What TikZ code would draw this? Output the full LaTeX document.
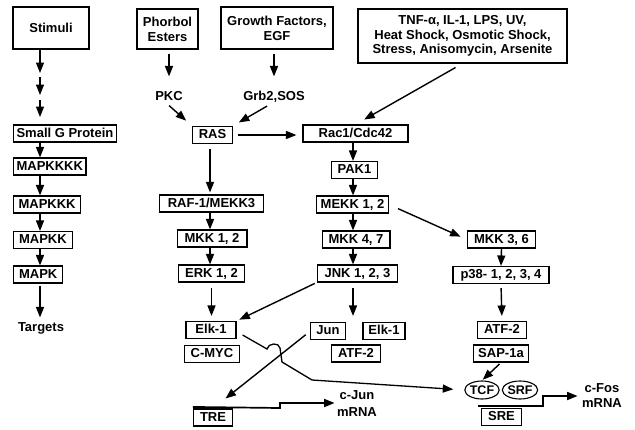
\documentclass[tikz,border=0pt]{standalone}
\usepackage{fontspec}
\setmainfont{Liberation Sans}
\usetikzlibrary{arrows.meta, positioning, shapes.geometric, calc}
\tikzset{
  every picture/.style={line width=1.1pt},
  box/.style={draw, inner xsep=6.5pt, inner ysep=2.5pt, text height=9.5pt, text depth=2.5pt, font=\bfseries\fontsize{13}{15}\selectfont},
  bigbox/.style={draw, align=center, inner sep=2pt, font=\bfseries\fontsize{13}{15}\selectfont},
  txt/.style={inner sep=2pt, text height=9.5pt, text depth=2.5pt, font=\bfseries\fontsize{13}{15}\selectfont},
  mrna/.style={inner sep=2pt, align=center, font=\bfseries\fontsize{13}{15}\selectfont},
  factor/.style={draw, ellipse, inner sep=0pt, minimum height=18pt, text height=8.5pt, text depth=0pt, font=\bfseries\fontsize{12.5}{14}\selectfont},
  arrow/.style={-{Triangle[length=10.5pt,width=8pt]}, line width=1.4pt},
  gene/.style={line width=1.7pt},
}

\begin{document}
\begin{tikzpicture}[x=1pt, y=-1pt]
  \useasboundingbox (0,0) rectangle (635,429);

  % generic cascade
  \coordinate (colL) at (40,0);
  \node[bigbox, minimum width=76pt, minimum height=42pt] (stim) at (51,28) {Stimuli};
  \coordinate (s2) at (40,73);
  \coordinate (s3) at (40,77);
  \coordinate (s4) at (40,95);
  \coordinate (s5) at (40,100);
  \coordinate (s6) at (40,117);
  \node[box, inner xsep=3pt, anchor=west] (smallg) at (13,133.5) {Small G Protein};
  \node[box, inner xsep=3pt, anchor=west] (mk4) at (13,166.5) {MAPKKKK};
  \node[box, inner xsep=5pt, anchor=west] (mk3) at (13,204.5) {MAPKKK};
  \node[box, inner xsep=5.5pt, anchor=west] (mk2) at (13,240) {MAPKK};
  \node[box, inner xsep=5.5pt, anchor=west] (mk1) at (13,274.5) {MAPK};
  \node[txt] (targets) at (41,328) {Targets};
  \draw[arrow] (stim.south -| colL) -- (s2);
  \draw[arrow] (s3) -- (s4);
  \draw[arrow] (s5) -- (s6);
  \draw[arrow] (smallg.south -| colL) -- (mk4.north -| colL);
  \draw[arrow] (mk4.south -| colL) -- (mk3.north -| colL);
  \draw[arrow] (mk3.south -| colL) -- (mk2.north -| colL);
  \draw[arrow] (mk2.south -| colL) -- (mk1.north -| colL);
  \draw[arrow, shorten <=2pt, shorten >=2pt] (mk1.south -| colL) -- (targets.north -| colL);

  % upstream stimuli
  \node[bigbox, minimum width=61pt, minimum height=40pt] (phorbol) at (167.5,29) {Phorbol\\Esters};
  \node[bigbox, minimum width=112pt, minimum height=42pt] (growth) at (277,28) {Growth Factors,\\EGF};
  \node[bigbox, minimum width=209pt, minimum height=54pt, font=\bfseries\fontsize{13}{14.5}\selectfont] (tnf) at (462.5,36)
    {TNF-α, IL-1, LPS, UV,\\Heat Shock, Osmotic Shock,\\Stress, Anisomycin, Arsenite};
  \node[txt] (pkc) at (169,97) {PKC};
  \node[txt] (grb) at (274,97) {Grb2,SOS};
  \node[box, inner xsep=6pt] (ras) at (212.5,135) {RAS};
  \node[box, minimum width=105pt] (rac) at (355.5,133.5) {Rac1/Cdc42};
  \draw[arrow, shorten <=4pt, shorten >=12pt] (phorbol.south -| pkc) -- (pkc);
  \draw[arrow, shorten <=4pt, shorten >=12pt] (growth.south -| grb) -- (grb);
  \draw[arrow, shorten >=8pt] (pkc.south) -- (ras.north west);
  \draw[arrow, shorten <=1pt, shorten >=7pt] ([xshift=-6pt]grb.south) -- (ras.north east);
  \draw[arrow, shorten <=5pt, shorten >=6pt] (ras.east) -- (ras.east -| rac.west);
  \draw[arrow, shorten <=8pt, shorten >=10pt] (tnf.south) -- (rac.north);

  % ERK branch
  \coordinate (colRas) at (210,0);
  \node[box, inner xsep=8pt] (raf) at (211.5,203.5) {RAF-1/MEKK3};
  \node[box, inner xsep=7.5pt] (mkk12) at (212,238.5) {MKK 1, 2};
  \node[box] (erk) at (211.5,273.5) {ERK 1, 2};
  \draw[arrow, shorten <=5pt, shorten >=2pt] (ras.south -| colRas) -- (raf.north -| colRas);
  \draw[arrow] (raf.south -| colRas) -- (mkk12.north -| colRas);
  \draw[arrow] (mkk12.south -| colRas) -- (erk.north -| colRas);

  % JNK branch
  \coordinate (colJnk) at (353,0);
  \node[box] (pak) at (354.5,170) {PAK1};
  \node[box, inner xsep=4pt] (mekk) at (352.5,204.5) {MEKK 1, 2};
  \node[box] (mkk47) at (356,239.5) {MKK 4, 7};
  \node[box, inner xsep=7.5pt] (jnk) at (357.5,273.5) {JNK 1, 2, 3};
  \draw[arrow] (rac.south -| colJnk) -- (pak.north -| colJnk);
  \draw[arrow] (pak.south -| colJnk) -- (mekk.north -| colJnk);
  \draw[arrow] (mekk.south -| colJnk) -- (mkk47.north -| colJnk);
  \draw[arrow] (mkk47.south -| colJnk) -- (jnk.north -| colJnk);

  % p38 branch
  \node[box] (mkk36) at (501.5,239.5) {MKK 3, 6};
  \node[box, inner xsep=7.5pt] (p38) at (501,275) {p38- 1, 2, 3, 4};
  \draw[arrow, shorten <=10pt, shorten >=7pt] (mekk.east) -- (mkk36.west);
  \draw[arrow] (mkk36.south) -- (p38.north);

  % transcription factors
  \node[box, inner xsep=9.5pt] (elk) at (211,330) {Elk-1};
  \node[box] (myc) at (212,354) {C-MYC};
  \node[box, inner xsep=5.5pt] (jun) at (328,331) {Jun};
  \node[box, inner xsep=5.5pt] (elkb) at (384,331) {Elk-1};
  \node[box] (atfm) at (356,353.5) {ATF-2};
  \node[box] (atfr) at (502,330) {ATF-2};
  \node[box, inner xsep=4.5pt] (sap) at (501,353.5) {SAP-1a};
  \node[factor, minimum width=32pt] (tcf) at (482,390) {TCF};
  \node[factor, minimum width=34pt] (srf) at (520,390) {SRF};
  \draw[arrow, shorten <=5pt, shorten >=5pt] (erk.south) -- (erk.south |- elk.north);
  \draw[arrow, shorten <=2pt, shorten >=3pt] (jnk.south west) -- (elk.north east);
  \draw[arrow, shorten <=5pt, shorten >=6pt] (jnk.south -| colJnk) -- (jun.north -| colJnk);
  \draw[arrow, shorten <=4pt, shorten >=5pt] (p38.south) -- (atfr.north);
  \draw[arrow, shorten <=2pt, shorten >=1pt] (sap.south) -- (tcf.north);

  % promoters
  \node[box] (tre) at (213,417.5) {TRE};
  \node[box] (sre) at (501.5,417) {SRE};
  \node[mrna] (cjun) at (357,404) {c-Jun\\[2pt]mRNA};
  \node[mrna] (cfos) at (602,395.5) {c-Fos\\mRNA};
  \draw[arrow, shorten <=6pt, shorten >=16pt] (jun.west) -- (tre.north);
  \coordinate (hopL) at (267,349);
  \coordinate (hopR) at (280,348);
  \coordinate (bend1) at (282,362);
  \coordinate (bend2) at (312,380);
  \draw[arrow, line width=1.3pt, shorten >=11pt] ([shift={(6,5)}]elk.east) -- (hopL)
    .. controls +(1,-6) and +(-1,-6) .. (hopR) -- (bend1) -- (bend2) -- (tcf.west);
  \coordinate (treStep) at (280,408);
  \coordinate (treUp) at (280,403);
  \draw[gene, -{Triangle[length=10.5pt,width=8pt]}] ([yshift=1.5pt]tre.north west) -- (treStep) -- (treUp) -- (cjun.west |- treUp);
  \coordinate (sreS) at (478,406);
  \coordinate (sreStep) at (543,406);
  \coordinate (sreUp) at (543,396);
  \draw[gene, -{Triangle[length=10.5pt,width=8pt]}, shorten >=2pt] (sreS) -- (sreStep) -- (sreUp) -- (cfos.west |- sreUp);
\end{tikzpicture}
\end{document}
